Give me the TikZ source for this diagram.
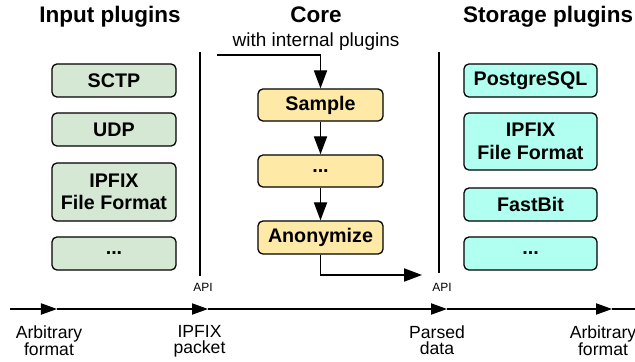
\documentclass[tikz,border=0pt]{standalone}
\usepackage{fontspec}
\setmainfont{Liberation Sans}
\usepackage{xcolor}
\usepackage{tikz}
\usetikzlibrary{arrows.meta}

\definecolor{inputgreen}{HTML}{D5E8D4}
\definecolor{coreyellow}{HTML}{FFE9A6}
\definecolor{storecyan}{HTML}{B0FFF0}

\tikzset{
	plugin/.style = {draw, line width = 0.9pt, rounded corners = 3.5pt, inner sep = 0pt, align = center,
		font = \fontsize{14}{16}\selectfont\bfseries},
	title/.style = {anchor = base, font = \fontsize{16}{18}\selectfont\bfseries},
	flow/.style = {line width = 0.9pt, -{Triangle[length = 0.45cm, width = 0.33cm]}},
	axisline/.style = {line width = 0.9pt},
	axislabel/.style = {anchor = north, inner sep = 0pt, align = center, font = \fontsize{12.5}{11.5}\selectfont},
	api/.style = {inner sep = 0pt, font = \fontsize{8.5}{10}\selectfont}
}

\begin{document}
\begin{tikzpicture}[x = 0.025cm, y = -0.025cm]
			\useasboundingbox (0,0) rectangle (635,361);

			\node [title] (intitle) at (110,23) {Input plugins};
			\node [title] (coretitle) at (316,23) {Core};
			\node [anchor = base, font = \fontsize{13.5}{16}\selectfont] (coresub) at (316,47) {with internal plugins};
			\node [title] (storetitle) at (548,23) {Storage plugins};

			\begin{scope}[every node/.append style = {plugin, fill = inputgreen, minimum width = 3.1cm, minimum height = 0.825cm}]
				\node (sctp) at (114,80.5) {SCTP};
				\node (udp) at (114,129.5) {UDP};
				\node [minimum height = 1.45cm] (ipfixin) at (114,192) {IPFIX\\File Format};
				\node (moreinput) at (114,253.5) {...};
			\end{scope}

			\begin{scope}[every node/.append style = {plugin, fill = coreyellow, minimum width = 3.125cm, minimum height = 0.8cm}]
				\node (sample) at (320.5,105) {Sample};
				\node (morecore) at (320.5,171) {...};
				\node [minimum height = 0.825cm] (anon) at (320.5,237.5) {Anonymize};
			\end{scope}

			\begin{scope}[every node/.append style = {plugin, fill = storecyan, minimum width = 3.325cm, minimum height = 0.825cm}]
				\node (pgsql) at (530.5,80.5) {PostgreSQL};
				\node [minimum height = 1.425cm] (ipfixout) at (530.5,141.5) {IPFIX\\File Format};
				\node (fastbit) at (530.5,204.5) {FastBit};
				\node (morestore) at (530.5,253.5) {...};
			\end{scope}

			\coordinate (inapitop) at (200,52);
			\coordinate (inapibot) at (200,276);
			\coordinate (outapitop) at (439,52);
			\coordinate (outapibot) at (439,273);
			\draw [line width = 0.9pt] (inapitop) -- (inapibot);
			\draw [line width = 0.9pt] (outapitop) -- (outapibot);
			\node [api] (inapi) at (203,287) {API};
			\node [api] (outapi) at (442,287) {API};

			\coordinate (corein) at (217,55);
			\coordinate (coreout) at (422,275);
			\draw [flow] (corein) -| (sample.north);
			\draw [flow] (sample) -- (morecore);
			\draw [flow] (morecore) -- (anon);
			\draw [flow] (anon.south) |- (coreout);

			\foreach \name/\x in {ax0/10, ax1/57, ax2/208, ax3/447, ax4/612, ax5/636}
			{
				\coordinate (\name) at (\x,309);
			}
			\begin{scope}[axisline, -{Triangle[length = 0.4cm, width = 0.28cm]}]
				\draw (ax0) -- (ax1);
				\draw (ax1) -- (ax2);
				\draw (ax2) -- (ax3);
				\draw (ax3) -- (ax4);
			\end{scope}
			\draw [axisline] (ax4) -- (ax5);

			\node [axislabel] (arbin) at (49,325) {Arbitrary\\format};
			\node [axislabel] (ipfixpkt) at (199.5,325) {IPFIX\\packet};
			\node [axislabel] (parsed) at (437,325) {Parsed\\data};
			\node [axislabel] (arbout) at (603,325) {Arbitrary\\format};
		\end{tikzpicture}
\end{document}
